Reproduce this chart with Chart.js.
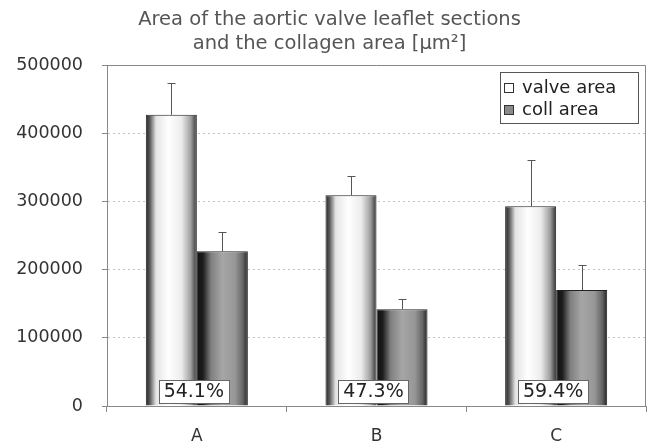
<!DOCTYPE html>
<html><head><meta charset="utf-8">
<script src="https://cdn.jsdelivr.net/npm/chart.js@4"></script>
<style>html,body{margin:0;padding:0;background:#fff;overflow:hidden;}</style>
</head><body>
<canvas id="c" width="648" height="444"></canvas>
<script>
const categories = ['A', 'B', 'C'];
const seriesNames = ['valve area', 'coll area'];
const valveArea = [427000, 309000, 293000];
const valveErr = [46000, 28000, 68000];
const collArea = [227000, 142000, 170000];
const collErr = [28000, 15000, 37000];
const percentLabels = ['54.1%', '47.3%', '59.4%'];
const yTickLabels = ['0', '100000', '200000', '300000', '400000', '500000'];
const titleLines = ['Area of the aortic valve leaflet sections', 'and the collagen area [\u00b5m\u00b2]'];

const FONT = 'DejaVu Sans';

const gradStops = [
  [[0, '#222222'], [0.08, '#5a5a5a'], [0.2, '#e4e4e4'], [0.45, '#ffffff'], [0.7, '#ececec'], [0.88, '#a0a0a0'], [1, '#333333']],
  [[0, '#111111'], [0.12, '#1c1c1c'], [0.28, '#808080'], [0.5, '#a6a6a6'], [0.75, '#979797'], [0.9, '#666666'], [1, '#222222']]
];

const bgPlugin = {
  id: 'bg',
  beforeDraw(chart) {
    const ctx = chart.ctx;
    ctx.save(); ctx.fillStyle = '#fff'; ctx.fillRect(0, 0, chart.width, chart.height); ctx.restore();
  }
};

const gradientPlugin = {
  id: 'barGradient',
  beforeDatasetsDraw(chart) {
    const ctx = chart.ctx;
    chart.data.datasets.forEach((ds, di) => {
      const meta = chart.getDatasetMeta(di);
      meta.data.forEach(el => {
        const left = el.x - el.width / 2;
        const g = ctx.createLinearGradient(left, 0, left + el.width, 0);
        gradStops[di].forEach(s => g.addColorStop(s[0], s[1]));
        el.options = Object.assign({}, el.options, { backgroundColor: g });
      });
    });
  }
};

const borderPlugin = {
  id: 'plotBorder',
  afterDraw(chart) {
    const { ctx, chartArea: a } = chart;
    ctx.save();
    ctx.strokeStyle = '#888';
    ctx.lineWidth = 1;
    ctx.beginPath();
    ctx.moveTo(Math.round(a.left) + 0.5, Math.round(a.top) + 0.5);
    ctx.lineTo(Math.round(a.right) - 0.5, Math.round(a.top) + 0.5);
    ctx.lineTo(Math.round(a.right) - 0.5, Math.round(a.bottom) + 0.5);
    ctx.stroke();
    ctx.restore();
  }
};

const errorPlugin = {
  id: 'errorBars',
  afterDatasetsDraw(chart) {
    const { ctx } = chart;
    const y = chart.scales.y;
    chart.data.datasets.forEach((ds, di) => {
      const meta = chart.getDatasetMeta(di);
      meta.data.forEach((el, i) => {
        const x = Math.round(el.x) + 0.5;
        const top = y.getPixelForValue(ds.data[i] + ds.errors[i]);
        ctx.save();
        ctx.strokeStyle = '#555';
        ctx.lineWidth = 1;
        ctx.beginPath();
        ctx.moveTo(x, el.y);
        ctx.lineTo(x, Math.round(top) + 0.5);
        ctx.moveTo(x - 4, Math.round(top) + 0.5);
        ctx.lineTo(x + 4, Math.round(top) + 0.5);
        ctx.stroke();
        ctx.restore();
      });
    });
  }
};

const percentPlugin = {
  id: 'percentLabels',
  afterDatasetsDraw(chart) {
    const { ctx, chartArea: a } = chart;
    const xs = chart.scales.x;
    ctx.save();
    ctx.font = '19px "' + FONT + '"';
    ctx.textAlign = 'center';
    ctx.textBaseline = 'middle';
    percentLabels.forEach((t, i) => {
      const cx = xs.getPixelForValue(i) - 3;
      const cy = a.bottom - 15;
      const w = ctx.measureText(t).width + 10;
      const h = 23;
      ctx.fillStyle = '#fff';
      ctx.fillRect(Math.round(cx - w / 2) + 0.5, Math.round(cy - h / 2) + 0.5, Math.round(w), h);
      ctx.strokeStyle = '#666';
      ctx.lineWidth = 1;
      ctx.strokeRect(Math.round(cx - w / 2) + 0.5, Math.round(cy - h / 2) + 0.5, Math.round(w), h);
      ctx.fillStyle = '#222';
      ctx.fillText(t, cx, cy + 1);
    });
    ctx.restore();
  }
};

const legendPlugin = {
  id: 'boxLegend',
  afterDraw(chart) {
    const { ctx, chartArea: a } = chart;
    const right = a.right - 8, top = a.top + 7, w = 138, h = 51;
    const left = right - w;
    ctx.save();
    ctx.fillStyle = '#fff';
    ctx.fillRect(Math.round(left) + 0.5, Math.round(top) + 0.5, w, h);
    ctx.strokeStyle = '#555';
    ctx.lineWidth = 1;
    ctx.strokeRect(Math.round(left) + 0.5, Math.round(top) + 0.5, w, h);
    ctx.font = '18px "' + FONT + '"';
    ctx.textBaseline = 'middle';
    ctx.textAlign = 'left';
    const fills = ['#ffffff', '#8a8a8a'];
    chart.data.datasets.forEach((ds, i) => {
      const cy = top + 16 + i * 22;
      ctx.fillStyle = fills[i];
      ctx.fillRect(Math.round(left + 4) + 0.5, Math.round(cy - 5) + 0.5, 9, 9);
      ctx.strokeStyle = '#333';
      ctx.strokeRect(Math.round(left + 4) + 0.5, Math.round(cy - 5) + 0.5, 9, 9);
      ctx.fillStyle = '#222';
      ctx.fillText(ds.label, left + 22, cy);
    });
    ctx.restore();
  }
};

new Chart(document.getElementById('c'), {
  type: 'bar',
  data: {
    labels: categories,
    datasets: [
      { label: seriesNames[0], data: valveArea, errors: valveErr, backgroundColor: '#fff', borderColor: '#222', borderWidth: 1, barPercentage: 1, categoryPercentage: 0.568 },
      { label: seriesNames[1], data: collArea, errors: collErr, backgroundColor: '#999', borderColor: '#222', borderWidth: 1, barPercentage: 1, categoryPercentage: 0.568 }
    ]
  },
  options: {
    responsive: false,
    devicePixelRatio: 1,
    animation: false,
    layout: { padding: { left: 13, right: 2, top: 0, bottom: 0 } },
    scales: {
      x: {
        afterFit: s => { s.height = 38; },
        ticks: { color: '#333', font: { family: FONT, size: 17 }, padding: 14 },
        grid: { display: true, drawOnChartArea: false, drawTicks: true, tickLength: 6, color: '#888', offset: true },
        border: { color: '#888' }
      },
      y: {
        min: 0, max: 500000,
        afterFit: s => { s.width = 94; },
        ticks: { stepSize: 100000, color: '#333', font: { family: FONT, size: 17.5 }, padding: 19, callback: (v, i) => yTickLabels[i] },
        grid: { color: '#c4c4c4', tickColor: '#888', tickLength: 5, tickBorderDash: [] },
        border: { color: '#888', dash: [2, 3] }
      }
    },
    plugins: {
      legend: { display: false },
      tooltip: { enabled: false },
      title: {
        display: true,
        text: titleLines,
        color: '#555',
        font: { family: FONT, size: 19.5, weight: 'normal', lineHeight: 1.2308 },
        padding: { top: 8, bottom: 9 }
      }
    }
  },
  plugins: [bgPlugin, gradientPlugin, errorPlugin, percentPlugin, borderPlugin, legendPlugin]
});
</script>
</body></html>
